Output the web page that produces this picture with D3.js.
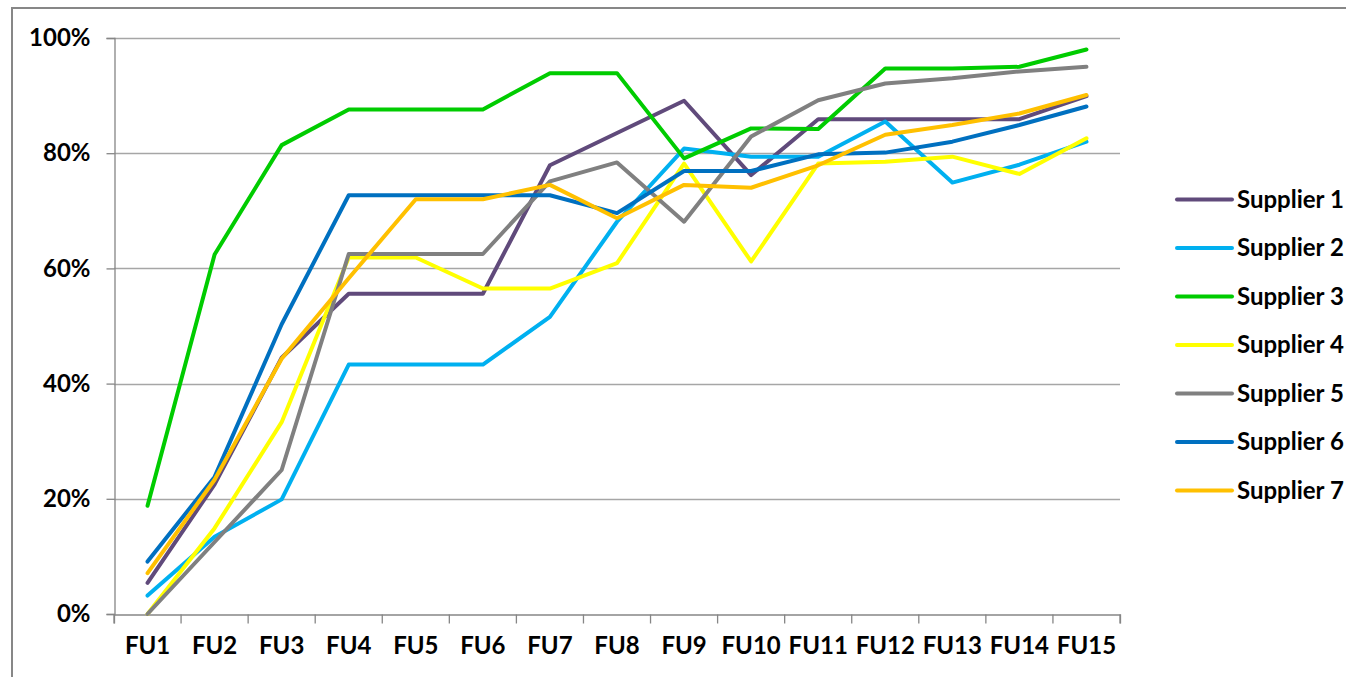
<!DOCTYPE html>
<html>
<head>
<meta charset="utf-8">
<script src="https://cdn.jsdelivr.net/npm/d3@7"></script>
<style>
  html, body { margin: 0; padding: 0; background: #fff; overflow: hidden; }
  svg { display: block; }
  text { font-family: Lato, "Open Sans", sans-serif; font-weight: bold; fill: #000; }
</style>
</head>
<body>
<svg id="chart" width="1346" height="677"></svg>
<script>
const categories = ["FU1","FU2","FU3","FU4","FU5","FU6","FU7","FU8","FU9","FU10","FU11","FU12","FU13","FU14","FU15"];
const yTicks = [0, 0.2, 0.4, 0.6, 0.8, 1.0];
const seriesNames = ["Supplier 1","Supplier 2","Supplier 3","Supplier 4","Supplier 5","Supplier 6","Supplier 7"];
const seriesColors = ["#604A7B","#00B0F0","#00CC00","#FFFF00","#808080","#0070C0","#FFC000"];

const supplier1 = [5.4, 22.5, 44.5, 55.6, 55.6, 55.6, 77.9, 83.5, 89.1, 76.2, 85.9, 85.9, 85.9, 85.9, 89.9];
const supplier2 = [3.2, 13.4, 19.9, 43.3, 43.3, 43.3, 51.6, 68.1, 80.8, 79.4, 79.4, 85.5, 74.9, 78.0, 82.0];
const supplier3 = [18.8, 62.4, 81.4, 87.6, 87.6, 87.6, 93.9, 93.9, 79.1, 84.3, 84.2, 94.7, 94.7, 95.0, 98.0];
const supplier4 = [0.0, 14.9, 33.3, 61.9, 61.9, 56.5, 56.5, 60.9, 78.2, 61.2, 78.2, 78.5, 79.4, 76.4, 82.6];
const supplier5 = [0.0, 12.5, 25.0, 62.5, 62.5, 62.5, 75.1, 78.4, 68.1, 82.9, 89.2, 92.1, 93.0, 94.2, 95.0];
const supplier6 = [9.1, 23.8, 50.3, 72.7, 72.7, 72.7, 72.7, 69.6, 76.9, 76.9, 79.8, 80.1, 82.0, 84.9, 88.1];
const supplier7 = [7.1, 23.3, 44.3, 58.3, 72.0, 72.0, 74.5, 68.7, 74.5, 74.0, 77.9, 83.2, 84.9, 86.9, 90.1];
const seriesValues = [supplier1, supplier2, supplier3, supplier4, supplier5, supplier6, supplier7];

const svg = d3.select("#chart");

// outer chart border
svg.append("rect")
  .attr("x", 12).attr("y", 8)
  .attr("width", 1400).attr("height", 720)
  .attr("fill", "none").attr("stroke", "#878787").attr("stroke-width", 2);

const plot = { left: 114, right: 1120, top: 38, bottom: 614 };

const x = d3.scaleBand().domain(categories).range([plot.left, plot.right]);
const y = d3.scaleLinear().domain([0, 1]).range([plot.bottom, plot.top]);

// gridlines
svg.append("g")
  .selectAll("line").data(yTicks.filter(d => d > 0)).join("line")
  .attr("x1", plot.left).attr("x2", plot.right)
  .attr("y1", d => Math.round(y(d)) + 0.5).attr("y2", d => Math.round(y(d)) + 0.5)
  .attr("stroke", "#A6A6A6").attr("stroke-width", 1.3);

// y axis
const yAxis = svg.append("g")
  .attr("transform", `translate(${plot.left + 0.5},0)`)
  .call(d3.axisLeft(y).tickValues(yTicks).tickFormat(d3.format(".0%")).tickSize(8).tickPadding(16));
yAxis.select(".domain").attr("stroke", "#868686").attr("stroke-width", 1.3);
yAxis.selectAll(".tick line").attr("stroke", "#868686").attr("stroke-width", 1.3);
yAxis.selectAll(".tick text").attr("font-size", 24).attr("font-family", "Lato, sans-serif").attr("font-weight", "bold").attr("fill", "#000");

// x axis
const xAxis = svg.append("g")
  .attr("transform", `translate(0,${plot.bottom + 0.5})`)
  .call(d3.axisBottom(x).tickSize(9).tickPadding(13));
xAxis.select(".domain").attr("stroke", "#868686").attr("stroke-width", 1.3);
xAxis.selectAll(".tick line")
  .attr("transform", `translate(${-x.bandwidth() / 2},0)`)
  .attr("stroke", "#868686").attr("stroke-width", 1.3);
// closing tick at right end
xAxis.append("line")
  .attr("x1", plot.right).attr("x2", plot.right).attr("y1", 0).attr("y2", 9)
  .attr("stroke", "#868686").attr("stroke-width", 1.3);
xAxis.selectAll(".tick text").attr("font-size", 24).attr("font-family", "Lato, sans-serif").attr("font-weight", "bold").attr("fill", "#000");

// lines
const line = d3.line()
  .x((d, i) => x(categories[i]) + x.bandwidth() / 2)
  .y(d => y(d / 100));

svg.append("g")
  .selectAll("path").data(seriesValues).join("path")
  .attr("d", d => line(d))
  .attr("fill", "none")
  .attr("stroke", (d, i) => seriesColors[i])
  .attr("stroke-width", 4)
  .attr("stroke-linejoin", "round")
  .attr("stroke-linecap", "round");

// legend
const legendY = d3.scalePoint().domain(seriesNames).range([199.5, 490.5]);
const legend = svg.append("g");
const items = legend.selectAll("g").data(seriesNames).join("g")
  .attr("transform", d => `translate(1177,${legendY(d)})`);
items.append("line")
  .attr("x1", 0).attr("x2", 55).attr("y1", 0).attr("y2", 0)
  .attr("stroke", (d, i) => seriesColors[i])
  .attr("stroke-width", 4)
  .attr("stroke-linecap", "round");
items.append("text")
  .attr("x", 60).attr("y", 0).attr("dy", "0.35em")
  .attr("font-size", 24)
  .text(d => d);
</script>
</body>
</html>
